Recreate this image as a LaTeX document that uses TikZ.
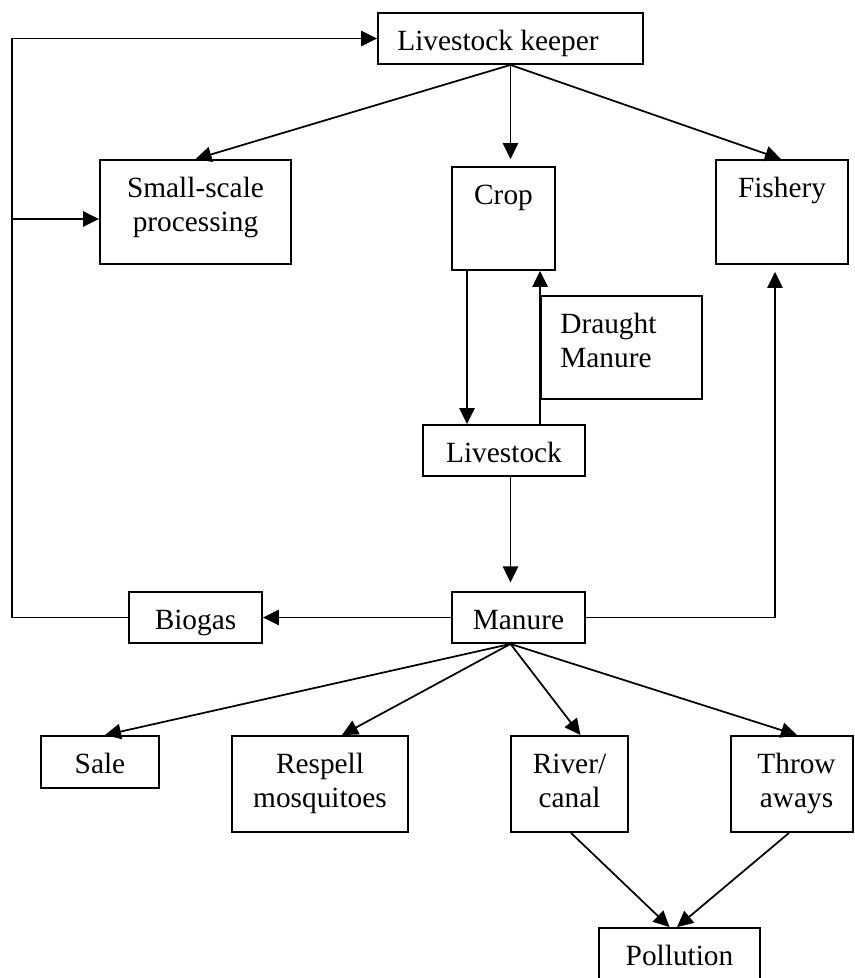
\documentclass[tikz,border=0pt]{standalone}
\usepackage{fontspec}
\setmainfont{Liberation Serif}
\usetikzlibrary{arrows.meta,calc}
\tikzset{
  box/.style={draw, line width=1.4pt, inner sep=0pt, minimum width=#1},
  bh/.style={minimum height=#1},
  tl/.style={anchor=base, yshift=-28.5pt, inner sep=0pt, font=\fontsize{22pt}{25.5pt}\selectfont},
  tlb/.style={anchor=base, yshift=-54pt, inner sep=0pt, font=\fontsize{22pt}{25.5pt}\selectfont},
  conn/.style={line width=1.3pt},
  arr/.style={conn, -{Triangle[length=12pt,width=11.5pt]}}
}
\begin{document}
\begin{tikzpicture}[x=0.75pt,y=-0.75pt]
\useasboundingbox (0,0) rectangle (854,978);
\fill[white] (0,0) rectangle (854,978);
% boxes
\node[box=265*0.75pt, bh=51*0.75pt, label={[tl, xshift=-9.4pt]north:Livestock keeper}] (lk) at (510.5,38.5) {};
\node[box=191*0.75pt, bh=104*0.75pt, label={[tl]north:Small-scale}, label={[tlb]north:processing}] (ssp) at (195.5,212) {};
\node[box=103*0.75pt, bh=103*0.75pt, label={[tl]north:Crop}] (crop) at (503.5,218.5) {};
\node[box=132*0.75pt, bh=104*0.75pt, label={[tl]north:Fishery}] (fish) at (782,212) {};
\node[box=161*0.75pt, bh=103*0.75pt, label={[tl, anchor=base west, xshift=15pt]north west:Draught}, label={[tlb, anchor=base west, xshift=15pt]north west:Manure}] (draught) at (621.5,347.5) {};
\node[box=162*0.75pt, bh=51*0.75pt, label={[tl]north:Livestock}] (livestock) at (504,450.5) {};
\node[box=133*0.75pt, bh=51*0.75pt, label={[tl]north:Manure}] (manure) at (518.5,617.5) {};
\node[box=133*0.75pt, bh=51*0.75pt, label={[tl]north:Biogas}] (biogas) at (195.5,617.5) {};
\node[box=118*0.75pt, bh=52*0.75pt, label={[tl]north:Sale}] (sale) at (100,762) {};
\node[box=176*0.75pt, bh=96*0.75pt, label={[tl]north:Respell}, label={[tlb]north:mosquitoes}] (respell) at (320,784) {};
\node[box=117*0.75pt, bh=96*0.75pt, label={[tl]north:River/}, label={[tlb]north:canal}] (river) at (569.5,784) {};
\node[box=122*0.75pt, bh=96*0.75pt, label={[tl, xshift=3.4pt]north:Throw}, label={[tlb, xshift=3.4pt]north:aways}] (throw) at (792,784) {};
\node[box=161*0.75pt, bh=104*0.75pt, label={[tl]north:Pollution}] (poll) at (679.5,980) {};
% helper coordinates
\coordinate (lft) at (12,219);
\coordinate (mo) at (manure.south -| lk.south);
% connectors from livestock keeper
\draw[arr] (lk.south) -- (ssp.north);
\draw[arr, shorten >=5.2pt] (lk.south) -- (lk.south |- crop.north);
\draw[arr] (lk.south) -- ($(fish.north)+(-1,0)$);
% crop <-> livestock
\draw[arr] ($(crop.south)+(-36.5,0)$) -- ($(livestock.north)+(-37,0)$);
\draw[arr] (livestock.north -| draught.west) -- (crop.south -| draught.west);
% livestock -> manure
\draw[arr, shorten >=6.5pt] (livestock.south -| lk.south) -- (manure.north -| lk.south);
% manure -> fishery
\draw[arr, shorten >=5.2pt] (manure.east) -| ($(fish.south)+(-7,0)$);
% manure -> biogas -> loop
\draw[arr] (manure.west) -- (biogas.east);
\draw[arr] (biogas.west) -- (biogas.west -| lft) |- (lk.west);
\draw[arr] (lft) -- (lft -| ssp.west);
% manure -> uses
\draw[arr] (mo) -- ($(sale.north)+(5,0)$);
\draw[arr] (mo) -- ($(respell.north)+(22,0)$);
\draw[arr] (mo) -- ($(river.north)+(11,0)$);
\draw[arr] (mo) -- ($(throw.north)+(5,0)$);
% to pollution
\draw[arr] ($(river.south)+(1.5,0)$) -- ($(poll.north)+(-10,0)$);
\draw[arr] ($(throw.south)+(-3,0)$) -- ($(poll.north)+(-2.5,0)$);
\end{tikzpicture}
\end{document}
